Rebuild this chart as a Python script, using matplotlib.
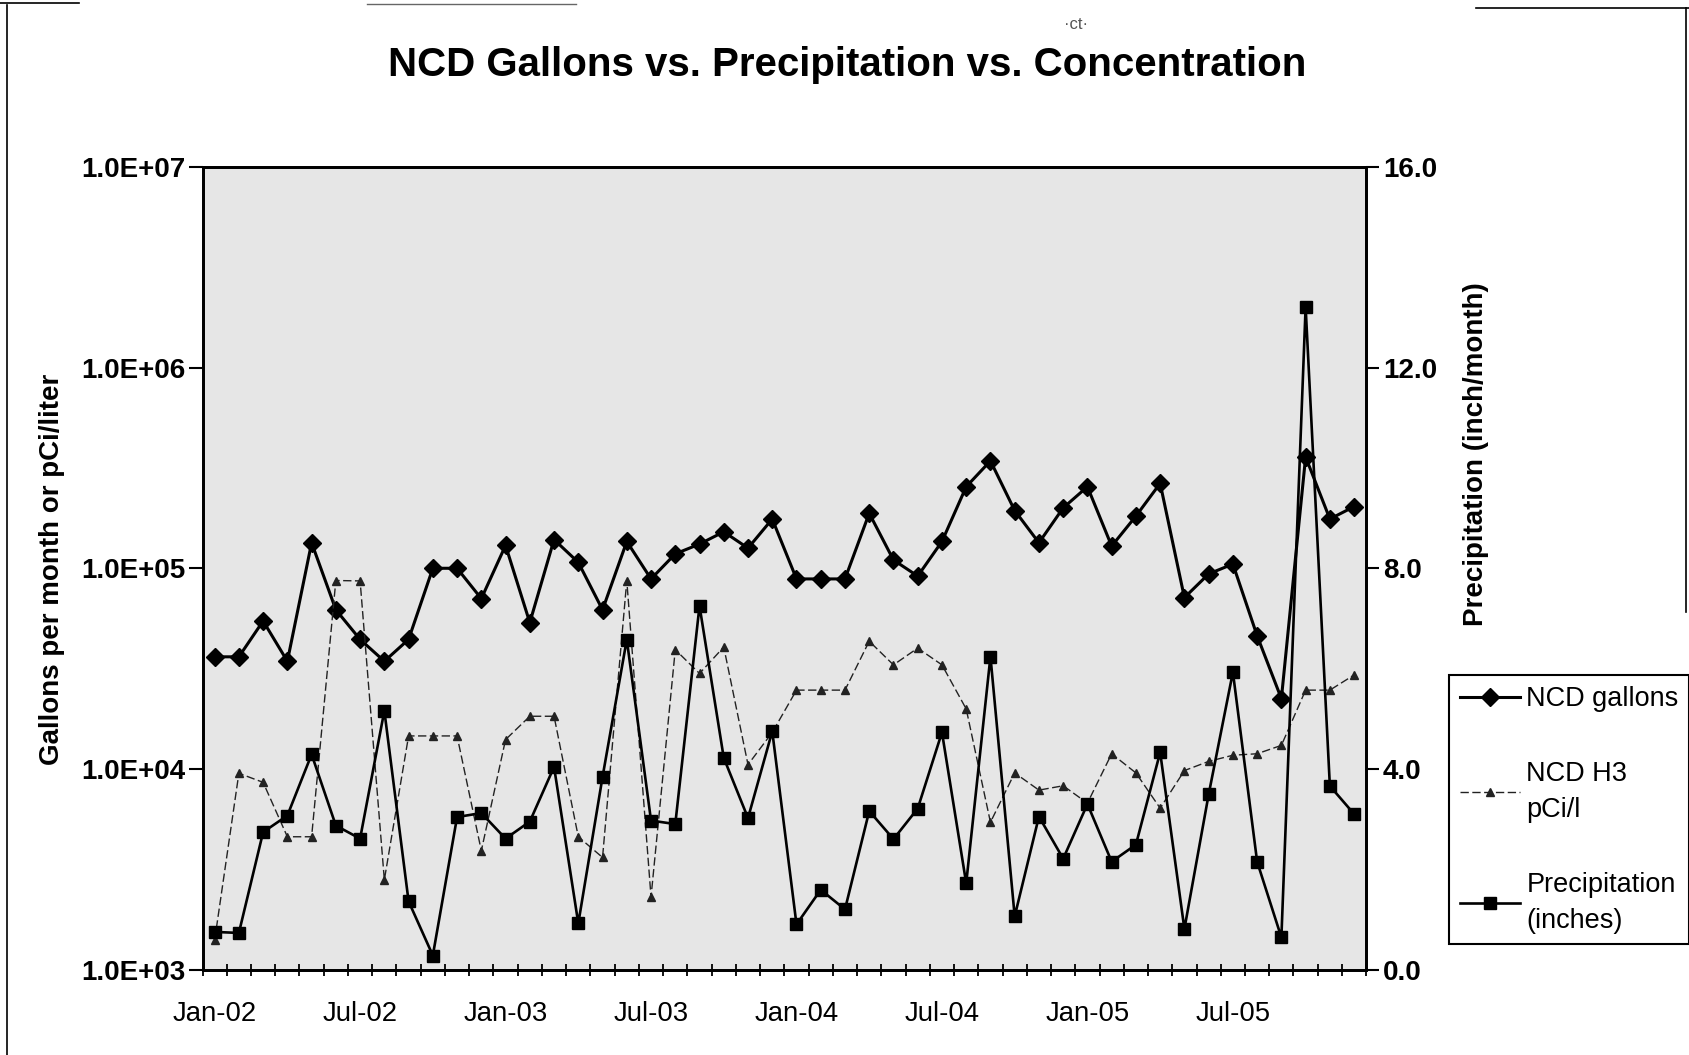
import matplotlib
matplotlib.use("Agg")
import matplotlib.pyplot as plt
import matplotlib.ticker as mticker
from matplotlib.lines import Line2D
import numpy as np

plt.rcParams['font.family'] = ['Liberation Sans', 'DejaVu Sans']

# monthly categories Jan-02 .. Dec-05
months = [
    'Jan-02', 'Feb-02', 'Mar-02', 'Apr-02', 'May-02', 'Jun-02', 'Jul-02', 'Aug-02', 'Sep-02', 'Oct-02', 'Nov-02', 'Dec-02',
    'Jan-03', 'Feb-03', 'Mar-03', 'Apr-03', 'May-03', 'Jun-03', 'Jul-03', 'Aug-03', 'Sep-03', 'Oct-03', 'Nov-03', 'Dec-03',
    'Jan-04', 'Feb-04', 'Mar-04', 'Apr-04', 'May-04', 'Jun-04', 'Jul-04', 'Aug-04', 'Sep-04', 'Oct-04', 'Nov-04', 'Dec-04',
    'Jan-05', 'Feb-05', 'Mar-05', 'Apr-05', 'May-05', 'Jun-05', 'Jul-05', 'Aug-05', 'Sep-05', 'Oct-05', 'Nov-05', 'Dec-05',
]

# NCD gallons per month
gallons = [
    36200, 36200, 54600, 34400, 134000, 62100, 44200, 34400, 44200, 100000, 100000, 70600,
    130000, 53600, 139000, 107000, 62100, 136000, 88500, 118000, 132000, 152000, 126000, 176000,
    88500, 88500, 88500, 188000, 110000, 91400, 136000, 255000, 343000, 194000, 134000, 200000,
    255000, 129000, 182000, 265000, 71400, 93700, 105000, 46100, 22400, 359000, 176000, 203000,
]

# NCD H3 pCi/l
h3_pci = [
    1400, 9510, 8570, 4590, 4590, 86900, 86500, 2800, 14600, 14600, 14600, 3910,
    14000, 18300, 18300, 4590, 3620, 86900, 2300, 39300, 29900, 40500, 10500, 15200,
    24700, 24700, 24700, 43300, 33000, 40000, 33000, 19900, 5420, 9550, 7840, 8240,
    6750, 11900, 9550, 6370, 9810, 10900, 11700, 11900, 13100, 24700, 24700, 29400,
]

# precipitation, inches per month
precip_in = [
    0.75, 0.73, 2.74, 3.07, 4.29, 2.87, 2.61, 5.16, 1.36, 0.28, 3.04, 3.12,
    2.61, 2.95, 4.04, 0.92, 3.84, 6.58, 2.97, 2.90, 7.25, 4.22, 3.02, 4.75,
    0.90, 1.59, 1.20, 3.16, 2.60, 3.21, 4.73, 1.72, 6.24, 1.06, 3.05, 2.21,
    3.30, 2.15, 2.49, 4.33, 0.81, 3.49, 5.93, 2.15, 0.64, 13.21, 3.66, 3.10,
]

left_ticks = [1e3, 1e4, 1e5, 1e6, 1e7]
left_tick_labels = ['1.0E+03', '1.0E+04', '1.0E+05', '1.0E+06', '1.0E+07']
right_ticks = [0, 4, 8, 12, 16]
right_tick_labels = ['0.0', '4.0', '8.0', '12.0', '16.0']

x = np.arange(len(months))

fig = plt.figure(figsize=(16.89, 10.55), dpi=100)
ax = fig.add_axes([0.1199, 0.081, 0.689, 0.7607])
ax.set_facecolor('#e6e6e6')
ax.set_yscale('log')
ax.set_ylim(1e3, 1e7)
ax.set_xlim(-0.5, len(months) - 0.5)

l1, = ax.plot(x, gallons, color='black', lw=2.2, marker='D', ms=9,
              label='NCD gallons')
l2, = ax.plot(x, h3_pci, color='#222222', lw=1.0, ls=(0, (6, 2.5)),
              marker='^', ms=5.5, label='NCD H3\npCi/l')

ax2 = ax.twinx()
ax2.set_ylim(0, 16)
l3, = ax2.plot(x, precip_in, color='black', lw=1.9, marker='s', ms=9,
               label='Precipitation\n(inches)')

# left axis
ax.yaxis.set_minor_locator(mticker.NullLocator())
ax.set_yticks(left_ticks)
ax.set_yticklabels(left_tick_labels, fontsize=20, fontweight='bold')
ax.tick_params(axis='y', which='major', direction='out', length=10, width=1.5, pad=2)

# category axis: labels every 6 months, ticks between categories
ax.set_xticks(x[::6])
ax.set_xticklabels(months[::6], fontsize=19.8)
ax.tick_params(axis='x', which='major', length=0, pad=23)
ax.set_xticks(np.arange(-0.5, len(months)), minor=True)
ax.tick_params(axis='x', which='minor', direction='inout', length=9, width=1.3)

# right axis
ax2.set_yticks(right_ticks)
ax2.set_yticklabels(right_tick_labels, fontsize=20, fontweight='bold')
ax2.tick_params(axis='y', direction='out', length=9, width=1.5, pad=3)

for a in (ax, ax2):
    for s in a.spines.values():
        s.set_linewidth(2)
        s.set_color('black')

leg = ax2.legend(handles=[l1, l2, l3], loc='upper left',
                 bbox_to_anchor=(0.858, 0.360), bbox_transform=fig.transFigure,
                 fontsize=19.5, frameon=True, fancybox=False, framealpha=1,
                 edgecolor='black', handlelength=2.2, handletextpad=0.25,
                 labelspacing=1.8, borderpad=0.4, borderaxespad=0)
leg.get_frame().set_linewidth(1.5)
for t in leg.get_texts():
    t.set_linespacing(1.5)

fig.text(0.5015, 0.938, 'NCD Gallons vs. Precipitation vs. Concentration',
         ha='center', va='center', fontsize=29, fontweight='bold')
fig.text(0.031, 0.46, 'Gallons per month or pCi/liter', rotation=90,
         ha='center', va='center', fontsize=20, fontweight='bold')
fig.text(0.874, 0.570, 'Precipitation (inch/month)', rotation=90,
         ha='center', va='center', fontsize=20, fontweight='bold')
fig.text(0.637, 0.977, '\u00b7ct\u00b7', ha='center', va='center', fontsize=12, color='#555555')

# scanned page border fragments
fig.add_artist(Line2D([0.0041, 0.0041], [0.0, 0.995], color='black', lw=1.2))
fig.add_artist(Line2D([0.0, 0.047], [0.997, 0.997], color='black', lw=1.2))
fig.add_artist(Line2D([0.217, 0.341], [0.996, 0.996], color='#666666', lw=1.0))
fig.add_artist(Line2D([0.874, 1.0], [0.992, 0.992], color='black', lw=1.2))
fig.add_artist(Line2D([0.998, 0.998], [0.42, 0.992], color='black', lw=1.2))

fig.savefig('out.png', dpi=100)
